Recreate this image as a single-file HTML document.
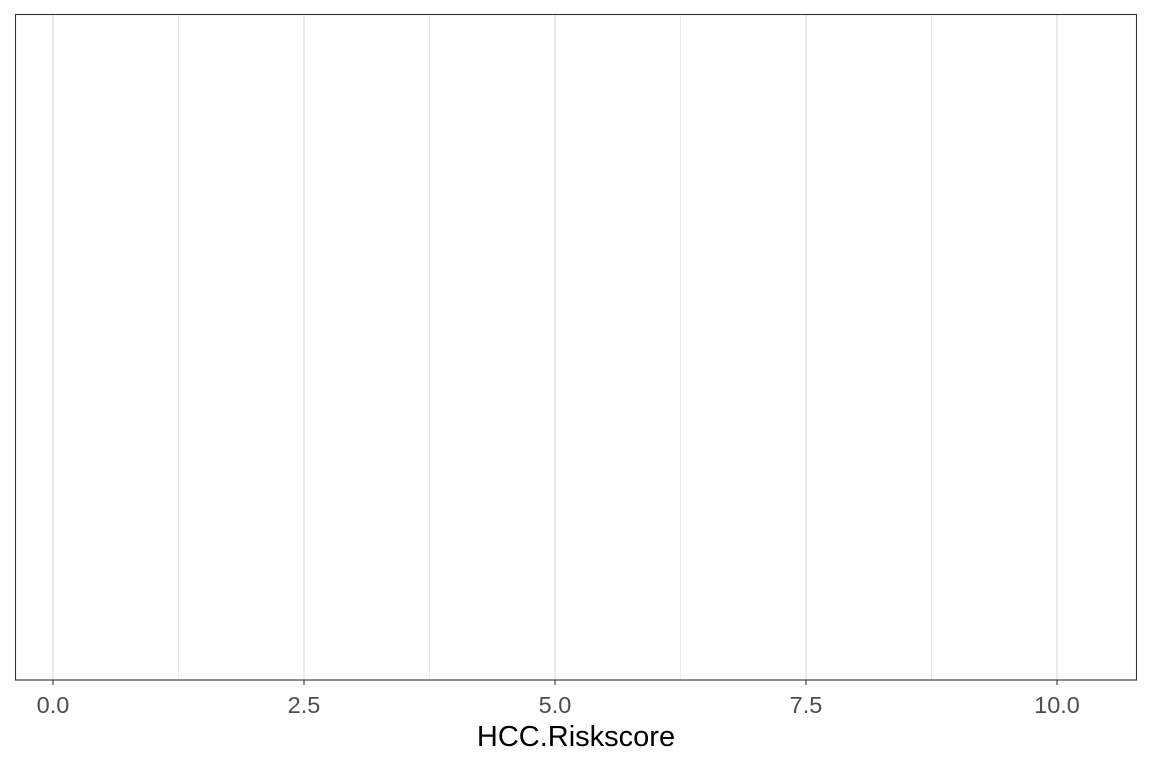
<!DOCTYPE html>
<html><head><meta charset="utf-8"><style>
html,body{margin:0;padding:0;background:#fff;}
svg{display:block;font-family:"Liberation Sans",sans-serif;}
</style></head><body>
<svg width="1152" height="768">
<g id="grid"></g>
<rect x="15.5" y="14.5" width="1121" height="665.5" fill="none" stroke="#333" stroke-width="1.1"/>
<g id="ticks"></g>
<text x="576" y="746" text-anchor="middle" font-size="29" fill="#000">HCC.Riskscore</text>
</svg>
<script>
const tickValues=[0,2.5,5,7.5,10];
const tickLabels=["0.0","2.5","5.0","7.5","10.0"];
const minorValues=[1.25,3.75,6.25,8.75];
const x=v=>53+v*100.4;
const NS="http://www.w3.org/2000/svg";
const grid=document.getElementById('grid'),ticks=document.getElementById('ticks');
minorValues.forEach(v=>{const l=document.createElementNS(NS,'line');
l.setAttribute('x1',x(v));l.setAttribute('x2',x(v));l.setAttribute('y1',15);l.setAttribute('y2',680);
l.setAttribute('stroke','#ebebeb');l.setAttribute('stroke-width','1');


grid.appendChild(l);});
tickValues.forEach((v,i)=>{const l=document.createElementNS(NS,'line');
l.setAttribute('x1',x(v));l.setAttribute('x2',x(v));l.setAttribute('y1',15);l.setAttribute('y2',680);
l.setAttribute('stroke','#ebebeb');l.setAttribute('stroke-width','2');


grid.appendChild(l);
const t=document.createElementNS(NS,'line');
t.setAttribute('x1',x(v));t.setAttribute('x2',x(v));t.setAttribute('y1',680);t.setAttribute('y2',685);
t.setAttribute('stroke','#333');t.setAttribute('stroke-width','1.1');


ticks.appendChild(t);
const s=document.createElementNS(NS,'text');
s.setAttribute('x',x(v));s.setAttribute('y',713);s.setAttribute('text-anchor','middle');
s.setAttribute('font-size','23.5');s.setAttribute('fill','#4d4d4d');s.textContent=tickLabels[i];


ticks.appendChild(s);});
</script>
</body></html>
